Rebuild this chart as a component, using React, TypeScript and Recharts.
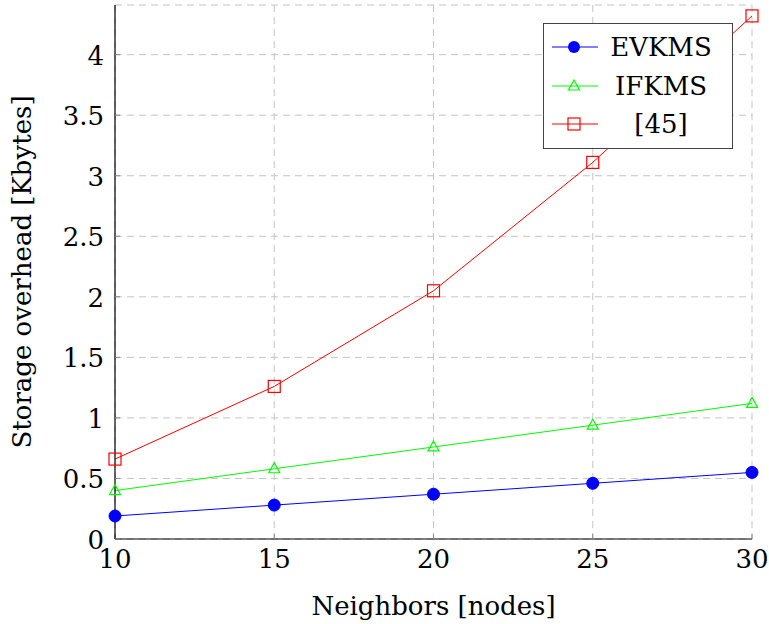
import React from "react";
import { LineChart, Line, XAxis, YAxis, CartesianGrid } from "recharts";

const neighbors = [10, 15, 20, 25, 30];
const evkms = [0.19, 0.28, 0.37, 0.46, 0.55];
const ifkms = [0.4, 0.58, 0.76, 0.94, 1.12];
const ref45 = [0.66, 1.26, 2.05, 3.11, 4.32];
const xTicks = [10, 15, 20, 25, 30];
const yTicks = [0, 0.5, 1, 1.5, 2, 2.5, 3, 3.5, 4];

const data = neighbors.map((n, i) => ({
  n,
  evkms: evkms[i],
  ifkms: ifkms[i],
  ref45: ref45[i],
}));

const FONT = "'DejaVu Serif', serif";
const FS = 26;

const CircleDot = (p: any) => (
  <circle key={p.index} cx={p.cx} cy={p.cy} r={6} fill="#0000ff" stroke="#0000ff" />
);
const TriDot = (p: any) => (
  <path
    key={p.index}
    d={`M${p.cx},${p.cy - 6} L${p.cx + 5.5},${p.cy + 4} L${p.cx - 5.5},${p.cy + 4} Z`}
    fill="none"
    stroke="#00ff00"
    strokeWidth={1.2}
  />
);
const SquareDot = (p: any) => (
  <rect key={p.index} x={p.cx - 6} y={p.cy - 6} width={12} height={12} fill="none" stroke="#ff0000" strokeWidth={1.2} />
);

// tick labels: tickSize is negative (ticks inside), so push labels out by hand
const XTick = (p: any) => (
  <text x={p.x} y={p.y + 32} textAnchor="middle" fontFamily={FONT} fontSize={FS} fill="#000">
    {p.payload.value}
  </text>
);
const YTick = (p: any) => (
  <text x={p.x - 14} y={p.y + 10} textAnchor="end" fontFamily={FONT} fontSize={FS} fill="#000">
    {p.payload.value}
  </text>
);

const legendItems = [
  { label: "EVKMS", color: "#0000ff", mark: "circle" },
  { label: "IFKMS", color: "#00ff00", mark: "tri" },
  { label: "[45]", color: "#ff0000", mark: "square" },
];

function LegendBox() {
  return (
    <div
      style={{
        position: "absolute",
        left: 543,
        top: 23,
        width: 190,
        height: 126,
        border: "1px solid #444",
        background: "#fff",
        boxSizing: "border-box",
        fontFamily: FONT,
        fontSize: FS,
        paddingTop: 4,
      }}
    >
      {legendItems.map((it) => (
        <div key={it.label} style={{ display: "flex", alignItems: "center", height: 38.5, lineHeight: "38px" }}>
          <svg width={56} height={20} style={{ marginLeft: 6, flex: "none" }}>
            <line x1={2} x2={48} y1={10} y2={10} stroke={it.color} strokeWidth={1} />
            {it.mark === "circle" && <circle cx={24} cy={10} r={6} fill={it.color} />}
            {it.mark === "tri" && (
              <path d="M24,4 L29.5,14 L18.5,14 Z" fill="none" stroke={it.color} strokeWidth={1.2} />
            )}
            {it.mark === "square" && (
              <rect x={18} y={4} width={12} height={12} fill="none" stroke={it.color} strokeWidth={1.2} />
            )}
          </svg>
          <span style={{ flex: 1, textAlign: "center", color: "#000", marginRight: 16 }}>{it.label}</span>
        </div>
      ))}
    </div>
  );
}

export default function App() {
  const axisLine = { stroke: "#000", strokeWidth: 1.2 };
  const tickLine = { stroke: "#888", strokeWidth: 1 };
  return (
    <div style={{ position: "absolute", left: 0, top: 0, width: 769, height: 624, background: "#fff", fontFamily: FONT }}>
      <LineChart width={769} height={624} data={data} margin={{ top: 5, right: 17, left: 0, bottom: 0 }}>
        <CartesianGrid stroke="#c4c4c4" strokeDasharray="7 5" />
        <XAxis
          dataKey="n"
          type="number"
          domain={[10, 30]}
          ticks={xTicks}
          height={85}
          tickSize={-5}
          tickLine={tickLine}
          axisLine={axisLine}
          tick={<XTick />}
          label={{ value: "Neighbors [nodes]", position: "insideBottom", offset: 9, fontFamily: FONT, fontSize: FS, fill: "#000" }}
        />
        <XAxis xAxisId="top" orientation="top" dataKey="n" type="number" domain={[10, 30]} ticks={xTicks} height={0} tickSize={-5} tick={false} tickLine={tickLine} axisLine={axisLine} />
        <YAxis
          type="number"
          domain={[0, 4.41]}
          ticks={yTicks}
          width={115}
          tickSize={-5}
          tickLine={tickLine}
          axisLine={axisLine}
          tick={<YTick />}
          allowDataOverflow
          label={{ value: "Storage overhead [Kbytes]", angle: -90, position: "insideLeft", offset: 22, fontFamily: FONT, fontSize: FS, fill: "#000", style: { textAnchor: "middle" } }}
        />
        <YAxis yAxisId="right" orientation="right" type="number" domain={[0, 4.41]} ticks={yTicks} width={0} tickSize={-5} tick={false} tickLine={tickLine} axisLine={axisLine} allowDataOverflow />
        <Line dataKey="evkms" stroke="#0000ff" strokeWidth={1} dot={CircleDot} isAnimationActive={false} />
        <Line dataKey="ifkms" stroke="#00ff00" strokeWidth={1} dot={TriDot} isAnimationActive={false} />
        <Line dataKey="ref45" stroke="#ff0000" strokeWidth={1} dot={SquareDot} isAnimationActive={false} />
      </LineChart>
      <LegendBox />
    </div>
  );
}
